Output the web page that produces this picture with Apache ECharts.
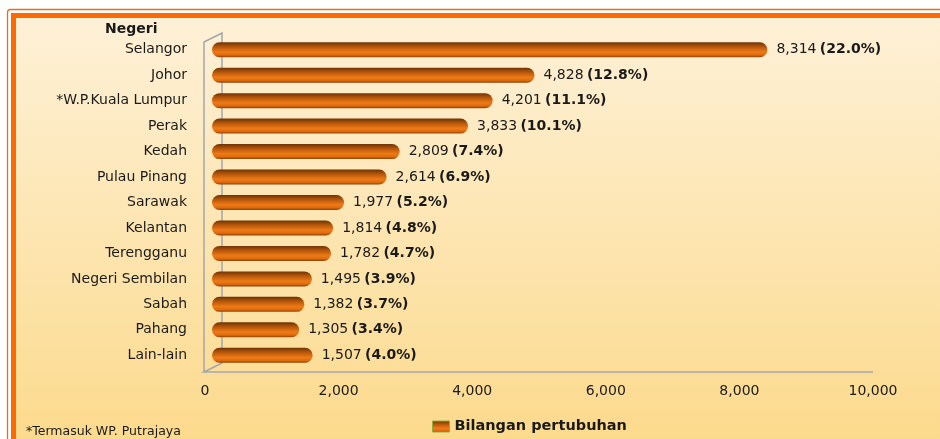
<!DOCTYPE html>
<html>
<head>
<meta charset="utf-8">
<script src="https://cdn.jsdelivr.net/npm/echarts@6/dist/echarts.min.js"></script>
<style>
  html, body { margin: 0; padding: 0; background: #fff; }
  #main { width: 940px; height: 439px; }
</style>
</head>
<body>
<div id="main"></div>
<script>
// data
let negeri = ["Selangor", "Johor", "*W.P.Kuala Lumpur", "Perak", "Kedah", "Pulau Pinang", "Sarawak",
  "Kelantan", "Terengganu", "Negeri Sembilan", "Sabah", "Pahang", "Lain-lain"]
let bilangan = [8314, 4828, 4201, 3833, 2809, 2614, 1977, 1814, 1782, 1495, 1382, 1305, 1507]
let peratus = ["22.0%", "12.8%", "11.1%", "10.1%", "7.4%", "6.9%", "5.2%", "4.8%", "4.7%", "3.9%", "3.7%", "3.4%", "4.0%"]
let xTicks = [0, 2000, 4000, 6000, 8000, 10000]

const FONT = "DejaVu Sans"
const TXT = "#1a1a1a"

var myChart = echarts.init(document.getElementById('main'))

// gradient for the cylinder bars
var barColor = new echarts.graphic.LinearGradient(0, 0, 0, 1, [
  { offset: 0, color: '#6e3304' },
  { offset: 0.3, color: '#b5560a' },
  { offset: 0.65, color: '#ee7a16' },
  { offset: 0.85, color: '#e06a0c' },
  { offset: 1, color: '#8a4206' }
])

var option = {
  animation: false,
  graphic: [
    // panel background + borders
    {
      type: 'rect', z: -10, silent: true,
      shape: { x: 7.5, y: 9.5, width: 960, height: 460, r: 3 },
      style: { fill: 'none', stroke: '#f26b12', lineWidth: 1.3 }
    },
    {
      type: 'rect', z: -10, silent: true,
      shape: { x: 13.5, y: 15.5, width: 940, height: 460 },
      style: {
        stroke: '#ff6a00', lineWidth: 5,
        fill: new echarts.graphic.LinearGradient(0, 0, 0, 1, [
          { offset: 0, color: '#fef1d8' },
          { offset: 1, color: '#fcd886' }
        ])
      }
    },
    // 3D wall frame
    {
      type: 'polyline', z: -5, silent: true,
      shape: { points: [[204, 372], [204, 42], [222, 33], [222, 363], [204, 372], [873, 372]] },
      style: { stroke: '#a2a6ac', lineWidth: 1.5, fill: 'none' }
    },
    {
      type: 'text', left: 105, top: 22,
      style: { text: 'Negeri', font: 'bold 14px "DejaVu Sans"', fill: TXT }
    },
    {
      type: 'text', left: 26, top: 425,
      style: { text: '*Termasuk WP. Putrajaya', font: '12.5px "DejaVu Sans"', fill: TXT }
    }
  ],
  grid: { left: 212, top: 37, width: 668, height: 331, containLabel: false },
  legend: {
    data: ['Bilangan pertubuhan'],
    left: 427, top: 414,
    icon: 'rect',
    itemWidth: 17, itemHeight: 11, itemGap: 4,
    textStyle: { fontFamily: FONT, fontSize: 14.5, fontWeight: 'bold', color: TXT },
    itemStyle: { borderColor: '#8fae3c', borderWidth: 1 }
  },
  xAxis: {
    type: 'value', min: 0, max: 10000, interval: 2000,
    axisLine: { show: false }, axisTick: { show: false }, splitLine: { show: false },
    axisLabel: {
      margin: 16, color: TXT, fontFamily: FONT, fontSize: 14,
      formatter: v => xTicks.includes(v) ? v.toLocaleString('en-US') : '',
      padding: [0, 14, 0, 0]
    }
  },
  yAxis: {
    type: 'category', data: negeri, inverse: true,
    axisLine: { show: false }, axisTick: { show: false },
    axisLabel: { margin: 25, color: TXT, fontFamily: FONT, fontSize: 14 }
  },
  series: [{
    name: 'Bilangan pertubuhan',
    type: 'bar',
    data: bilangan,
    barWidth: 15,
    itemStyle: { color: barColor, borderRadius: 7.5 },
    label: {
      show: true, position: 'right', distance: 9,
      formatter: p => '{n|' + p.value.toLocaleString('en-US') + '} {b|(' + peratus[p.dataIndex] + ')}',
      rich: {
        n: { fontFamily: FONT, fontSize: 14, color: TXT },
        b: { fontFamily: FONT, fontSize: 14, fontWeight: 'bold', color: TXT }
      }
    }
  }]
}

myChart.setOption(option)
</script>
</body>
</html>
